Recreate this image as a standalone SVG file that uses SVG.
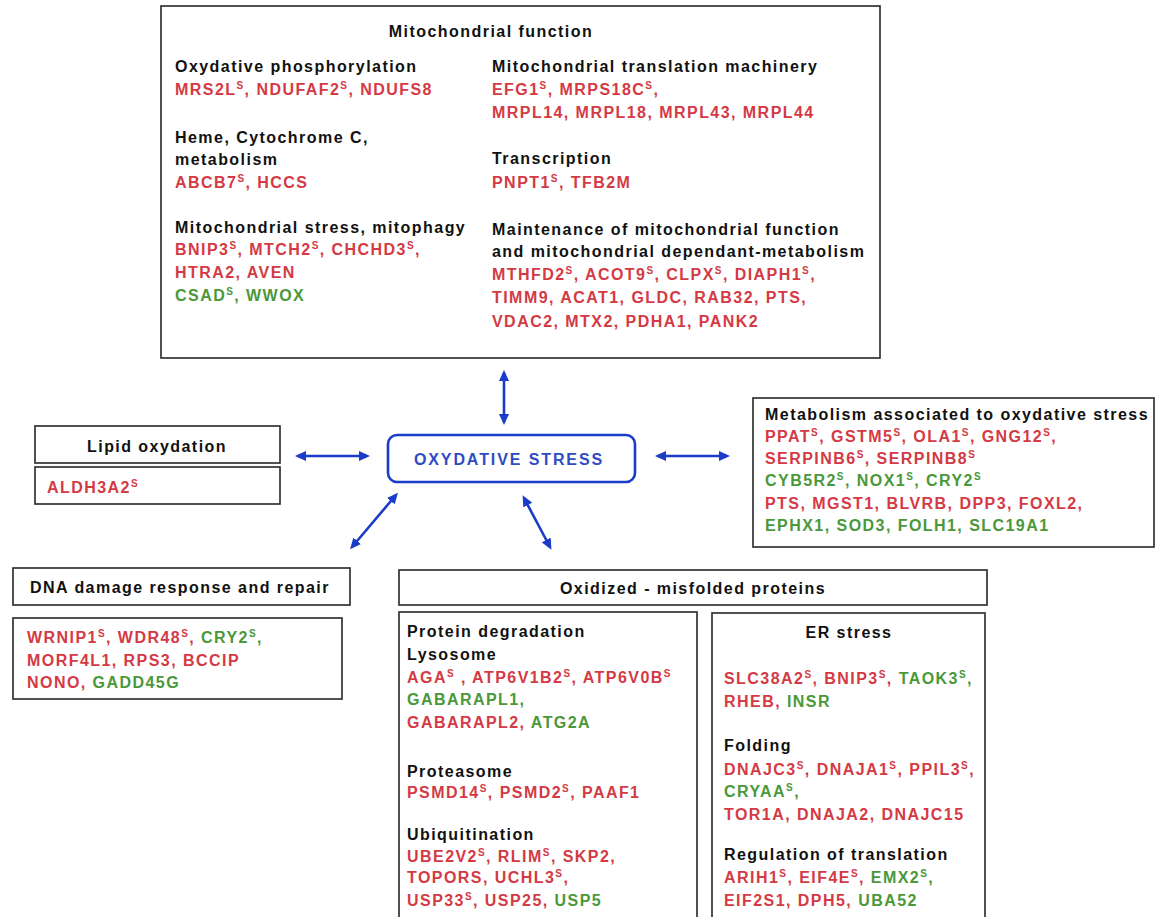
<svg xmlns="http://www.w3.org/2000/svg" width="1156" height="917" viewBox="0 0 1156 917">
<style>
.t{font-family:"Liberation Sans",Arial,sans-serif;font-weight:bold;font-size:16px;letter-spacing:1.45px;fill:#111}
.r{fill:#d43a44}
.g{fill:#4a983a}
.s{font-size:10px}
.c{text-anchor:middle}
.box{fill:#fff;stroke:#333;stroke-width:1.7}
.arr{stroke:#1a3cc8;stroke-width:2.6;fill:none;marker-start:url(#ah);marker-end:url(#ah)}
.blue{fill:#2f4bc4;letter-spacing:1.9px}
</style>
<defs>
<marker id="ah" markerUnits="userSpaceOnUse" markerWidth="12" markerHeight="10" refX="8" refY="5" orient="auto-start-reverse">
<path d="M0,0 L11,5 L0,10 z" fill="#1a3cc8"/>
</marker>
</defs>
<rect width="1156" height="917" fill="#fff"/>

<g id="mito">
<rect class="box" x="161" y="6" width="719" height="352"/>
<text class="t c" x="491" y="37">Mitochondrial function</text>
<text class="t" x="175" y="72">Oxydative phosphorylation</text>
<text class="t r" x="175" y="95">MRS2L<tspan class="s" dy="-6">S</tspan><tspan dy="6">, NDUFAF2</tspan><tspan class="s" dy="-6">S</tspan><tspan dy="6">, NDUFS8</tspan></text>
<text class="t" x="175" y="143">Heme, Cytochrome C,</text>
<text class="t" x="175" y="165">metabolism</text>
<text class="t r" x="175" y="188">ABCB7<tspan class="s" dy="-6">S</tspan><tspan dy="6">, HCCS</tspan></text>
<text class="t" x="175" y="233">Mitochondrial stress, mitophagy</text>
<text class="t r" x="175" y="255">BNIP3<tspan class="s" dy="-6">S</tspan><tspan dy="6">, MTCH2</tspan><tspan class="s" dy="-6">S</tspan><tspan dy="6">, CHCHD3</tspan><tspan class="s" dy="-6">S</tspan><tspan dy="6">,</tspan></text>
<text class="t r" x="175" y="278">HTRA2, AVEN</text>
<text class="t g" x="175" y="301">CSAD<tspan class="s" dy="-6">S</tspan><tspan dy="6">, WWOX</tspan></text>

<text class="t" x="492" y="72">Mitochondrial translation machinery</text>
<text class="t r" x="492" y="95">EFG1<tspan class="s" dy="-6">S</tspan><tspan dy="6">, MRPS18C</tspan><tspan class="s" dy="-6">S</tspan><tspan dy="6">,</tspan></text>
<text class="t r" x="492" y="118">MRPL14, MRPL18, MRPL43, MRPL44</text>
<text class="t" x="492" y="164">Transcription</text>
<text class="t r" x="492" y="188">PNPT1<tspan class="s" dy="-6">S</tspan><tspan dy="6">, TFB2M</tspan></text>
<text class="t" x="492" y="235">Maintenance of mitochondrial function</text>
<text class="t" x="492" y="257">and mitochondrial dependant-metabolism</text>
<text class="t r" x="492" y="280">MTHFD2<tspan class="s" dy="-6">S</tspan><tspan dy="6">, ACOT9</tspan><tspan class="s" dy="-6">S</tspan><tspan dy="6">, CLPX</tspan><tspan class="s" dy="-6">S</tspan><tspan dy="6">, DIAPH1</tspan><tspan class="s" dy="-6">S</tspan><tspan dy="6">,</tspan></text>
<text class="t r" x="492" y="303">TIMM9, ACAT1, GLDC, RAB32, PTS,</text>
<text class="t r" x="492" y="327">VDAC2, MTX2, PDHA1, PANK2</text>
</g>

<g id="lipid">
<rect class="box" x="35" y="426" width="245" height="37"/>
<text class="t c" x="157" y="452">Lipid oxydation</text>
<rect class="box" x="35" y="467" width="245" height="37"/>
<text class="t r" x="47" y="493">ALDH3A2<tspan class="s" dy="-6">S</tspan></text>
</g>

<g id="stress">
<rect x="388" y="435" width="247" height="47" rx="9" fill="#fff" stroke="#1a3cc8" stroke-width="2.6"/>
<text class="t c blue" x="509" y="465">OXYDATIVE STRESS</text>
</g>

<g id="metab">
<rect class="box" x="753" y="398" width="401" height="149"/>
<text class="t" x="765" y="420">Metabolism associated to oxydative stress</text>
<text class="t r" x="765" y="442">PPAT<tspan class="s" dy="-6">S</tspan><tspan dy="6">, GSTM5</tspan><tspan class="s" dy="-6">S</tspan><tspan dy="6">, OLA1</tspan><tspan class="s" dy="-6">S</tspan><tspan dy="6">, GNG12</tspan><tspan class="s" dy="-6">S</tspan><tspan dy="6">,</tspan></text>
<text class="t r" x="765" y="464">SERPINB6<tspan class="s" dy="-6">S</tspan><tspan dy="6">, SERPINB8</tspan><tspan class="s" dy="-6">S</tspan></text>
<text class="t g" x="765" y="486">CYB5R2<tspan class="s" dy="-6">S</tspan><tspan dy="6">, NOX1</tspan><tspan class="s" dy="-6">S</tspan><tspan dy="6">, CRY2</tspan><tspan class="s" dy="-6">S</tspan></text>
<text class="t r" x="765" y="509">PTS, MGST1, BLVRB, DPP3, FOXL2,</text>
<text class="t g" x="765" y="531">EPHX1, SOD3, FOLH1, SLC19A1</text>
</g>

<g id="dna">
<rect class="box" x="13" y="568" width="337" height="37"/>
<text class="t c" x="180" y="593">DNA damage response and repair</text>
<rect class="box" x="13" y="618" width="329" height="81"/>
<text class="t r" x="27" y="643">WRNIP1<tspan class="s" dy="-6">S</tspan><tspan dy="6">, WDR48</tspan><tspan class="s" dy="-6">S</tspan><tspan dy="6">, </tspan><tspan class="g">CRY2</tspan><tspan class="s g" dy="-6">S</tspan><tspan class="g" dy="6">,</tspan></text>
<text class="t r" x="27" y="666">MORF4L1, RPS3, BCCIP</text>
<text class="t r" x="27" y="688">NONO, <tspan class="g">GADD45G</tspan></text>
</g>

<g id="oxidized">
<rect class="box" x="399" y="570" width="588" height="35"/>
<text class="t c" x="693" y="594">Oxidized - misfolded proteins</text>
</g>

<g id="degradation">
<rect class="box" x="399" y="612" width="298" height="320"/>
<text class="t" x="407" y="637">Protein degradation</text>
<text class="t" x="407" y="660">Lysosome</text>
<text class="t r" x="407" y="683">AGA<tspan class="s" dy="-6">S</tspan><tspan dy="6"> , ATP6V1B2</tspan><tspan class="s" dy="-6">S</tspan><tspan dy="6">, ATP6V0B</tspan><tspan class="s" dy="-6">S</tspan></text>
<text class="t g" x="407" y="705">GABARAPL1,</text>
<text class="t r" x="407" y="728">GABARAPL2, <tspan class="g">ATG2A</tspan></text>
<text class="t" x="407" y="777">Proteasome</text>
<text class="t r" x="407" y="798">PSMD14<tspan class="s" dy="-6">S</tspan><tspan dy="6">, PSMD2</tspan><tspan class="s" dy="-6">S</tspan><tspan dy="6">, PAAF1</tspan></text>
<text class="t" x="407" y="840">Ubiquitination</text>
<text class="t r" x="407" y="862">UBE2V2<tspan class="s" dy="-6">S</tspan><tspan dy="6">, RLIM</tspan><tspan class="s" dy="-6">S</tspan><tspan dy="6">, SKP2,</tspan></text>
<text class="t r" x="407" y="883">TOPORS, UCHL3<tspan class="s" dy="-6">S</tspan><tspan dy="6">,</tspan></text>
<text class="t r" x="407" y="906">USP33<tspan class="s" dy="-6">S</tspan><tspan dy="6">, USP25, </tspan><tspan class="g">USP5</tspan></text>
</g>

<g id="er">
<rect class="box" x="712" y="613" width="273" height="320"/>
<text class="t c" x="849" y="638">ER stress</text>
<text class="t r" x="724" y="684">SLC38A2<tspan class="s" dy="-6">S</tspan><tspan dy="6">, BNIP3</tspan><tspan class="s" dy="-6">S</tspan><tspan dy="6">, </tspan><tspan class="g">TAOK3</tspan><tspan class="s g" dy="-6">S</tspan><tspan class="g" dy="6">,</tspan></text>
<text class="t r" x="724" y="707">RHEB, <tspan class="g">INSR</tspan></text>
<text class="t" x="724" y="751">Folding</text>
<text class="t r" x="724" y="775">DNAJC3<tspan class="s" dy="-6">S</tspan><tspan dy="6">, DNAJA1</tspan><tspan class="s" dy="-6">S</tspan><tspan dy="6">, PPIL3</tspan><tspan class="s" dy="-6">S</tspan><tspan dy="6">,</tspan></text>
<text class="t g" x="724" y="797">CRYAA<tspan class="s" dy="-6">S</tspan><tspan dy="6">,</tspan></text>
<text class="t r" x="724" y="820">TOR1A, DNAJA2, DNAJC15</text>
<text class="t" x="724" y="860">Regulation of translation</text>
<text class="t r" x="724" y="883">ARIH1<tspan class="s" dy="-6">S</tspan><tspan dy="6">, EIF4E</tspan><tspan class="s" dy="-6">S</tspan><tspan dy="6">, </tspan><tspan class="g">EMX2</tspan><tspan class="s g" dy="-6">S</tspan><tspan class="g" dy="6">,</tspan></text>
<text class="t r" x="724" y="906">EIF2S1, DPH5, <tspan class="g">UBA52</tspan></text>
</g>

<g id="connectors">
<line class="arr" x1="504" y1="373" x2="504" y2="422"/>
<line class="arr" x1="298" y1="456" x2="367" y2="456"/>
<line class="arr" x1="658" y1="456" x2="727" y2="456"/>
<line class="arr" x1="396" y1="495" x2="352" y2="547"/>
<line class="arr" x1="524" y1="498" x2="550" y2="547"/>
</g>
</svg>
